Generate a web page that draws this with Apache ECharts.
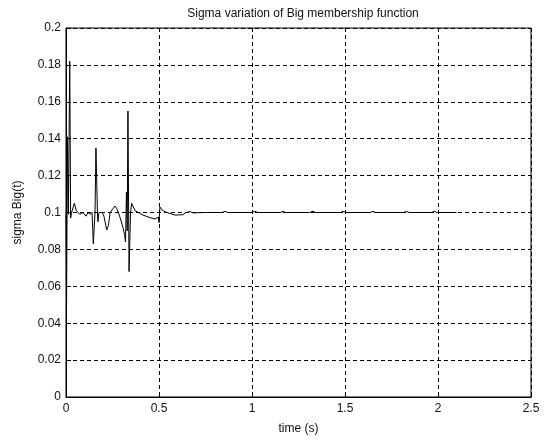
<!DOCTYPE html>
<html>
<head>
<meta charset="utf-8">
<script src="https://cdn.jsdelivr.net/npm/echarts@6/dist/echarts.min.js"></script>
<style>html,body{margin:0;padding:0;background:#fff;}#c{width:546px;height:442px;}</style>
</head>
<body>
<div id="c"></div>
<script>
const titleText = "Sigma variation of Big membership function";
const xName = "time (s)";
const yName = "sigma Big(t)";

const timeS = [0, 0.003, 0.008, 0.013, 0.02, 0.025, 0.03, 0.045, 0.055, 0.065, 0.075, 0.091, 0.108, 0.118, 0.129, 0.14, 0.147, 0.156, 0.161, 0.169, 0.172, 0.177, 0.194, 0.204, 0.219, 0.228, 0.237, 0.247, 0.263, 0.274, 0.29, 0.306, 0.315, 0.32, 0.325, 0.329, 0.333, 0.339, 0.347, 0.353, 0.371, 0.414, 0.452, 0.478, 0.487, 0.497, 0.5, 0.505, 0.516, 0.532, 0.559, 0.586, 0.629, 0.645, 0.667, 0.683, 0.75, 0.84, 0.855, 0.87, 1.0, 1.016, 1.03, 1.15, 1.167, 1.18, 1.31, 1.328, 1.34, 1.475, 1.49, 1.505, 1.635, 1.65, 1.665, 1.815, 1.83, 1.845, 1.965, 1.98, 1.995, 2.1];
const sigmaBig = [0.1, 0.051, 0.141, 0.099, 0.182, 0.097, 0.1, 0.105, 0.101, 0.1, 0.099, 0.1, 0.098, 0.1, 0.099, 0.1, 0.083, 0.1, 0.135, 0.1, 0.095, 0.1, 0.1, 0.098, 0.0905, 0.093, 0.1, 0.101, 0.1035, 0.102, 0.0975, 0.092, 0.088, 0.084, 0.111, 0.09, 0.155, 0.068, 0.1, 0.105, 0.101, 0.0986, 0.0972, 0.0965, 0.0975, 0.0975, 0.0945, 0.103, 0.1015, 0.1004, 0.0995, 0.0986, 0.0988, 0.1, 0.1005, 0.0998, 0.1, 0.1, 0.1007, 0.1, 0.1, 0.1007, 0.1, 0.1, 0.1006, 0.1, 0.1, 0.1007, 0.1, 0.1, 0.1006, 0.1, 0.1, 0.1006, 0.1, 0.1, 0.1006, 0.1, 0.1, 0.1006, 0.1, 0.1];

const xTicks = {min: 0, max: 2.5, interval: 0.5};
const yTicks = {min: 0, max: 0.2, interval: 0.02};

const chart = echarts.init(document.getElementById('c'), null, {renderer: 'canvas'});
const font = "'Liberation Sans', Arial, sans-serif";
const gridLine = {show: true, lineStyle: {color: '#000', type: [4, 3], width: 1}};
chart.setOption({
  animation: false,
  backgroundColor: '#fff',
  title: {
    text: titleText, left: 298, top: 3, textAlign: 'center',
    textStyle: {fontFamily: font, fontSize: 12, fontWeight: 'normal', color: '#111'}
  },
  grid: {left: 66, right: 15, top: 28, bottom: 45, show: true, borderColor: '#000', borderWidth: 1, containLabel: false},
  xAxis: {
    type: 'value', min: xTicks.min, max: xTicks.max, interval: xTicks.interval,
    name: xName, nameLocation: 'middle', nameGap: 26,
    nameTextStyle: {fontFamily: font, fontSize: 12, color: '#111'},
    axisLine: {show: true, onZero: false, lineStyle: {color: '#000', width: 1}},
    axisTick: {show: true, inside: true, length: 5, lineStyle: {color: '#000'}},
    axisLabel: {fontFamily: font, fontSize: 12, color: '#111', margin: 6},
    splitLine: gridLine
  },
  yAxis: {
    type: 'value', min: yTicks.min, max: yTicks.max, interval: yTicks.interval,
    name: yName, nameLocation: 'middle', nameGap: 42,
    nameTextStyle: {fontFamily: font, fontSize: 12, color: '#111'},
    axisLine: {show: true, onZero: false, lineStyle: {color: '#000', width: 1}},
    axisTick: {show: true, inside: true, length: 5, lineStyle: {color: '#000'}},
    axisLabel: {fontFamily: font, fontSize: 12, color: '#111', margin: 5},
    splitLine: gridLine
  },
  series: [{
    type: 'line', showSymbol: false, symbol: 'none',
    data: timeS.map((t, i) => [t, sigmaBig[i]]),
    lineStyle: {color: '#000', width: 1}
  }]
});
</script>
</body>
</html>
